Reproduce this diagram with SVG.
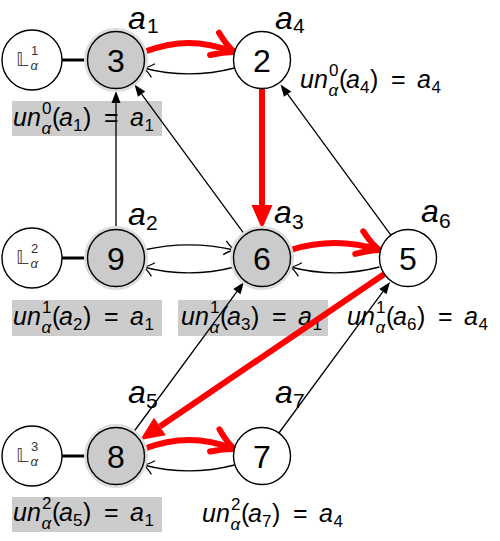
<svg xmlns="http://www.w3.org/2000/svg" width="500" height="541" viewBox="0 0 500 541">
<style>
text{font-family:'Liberation Sans',Arial,sans-serif;fill:#000}
.nd{stroke:#000;stroke-width:1.4}
.w{fill:#fff}
.g{fill:#cbcbcb}
.halo{fill:none;stroke:#dddddd;stroke-width:4}
.num{font-size:32px;text-anchor:middle}
.lab{font-style:italic;font-size:32px}
.lsub{font-style:normal;font-size:21px}
.un{font-size:25px}
.it{font-style:italic}
.s{font-size:17px}
.box{fill:#cccccc}
.bb{font-family:'DejaVu Sans',sans-serif;font-size:19px;fill:#444}
.bs{font-size:13px;fill:#333}
.thick{stroke:#000;stroke-width:3}
.e{fill:none;stroke:#000;stroke-width:1.3}
.r{fill:none;stroke:#f00;stroke-width:6}
</style>
<defs>
<marker id="tri" markerUnits="userSpaceOnUse" viewBox="0 -5 14 10" markerWidth="14" markerHeight="10" refX="0" refY="0" orient="auto" overflow="visible"><path d="M0,-4.5 L12,0 L0,4.5 Z" fill="#000"/></marker>
<marker id="triR" markerUnits="userSpaceOnUse" viewBox="0 -11 26 22" markerWidth="26" markerHeight="22" refX="0" refY="0" orient="auto" overflow="visible"><path d="M0,-10.5 L24,0 L0,10.5 Z" fill="#f00"/></marker>
<marker id="chev" markerUnits="userSpaceOnUse" viewBox="-12 -8 14 16" markerWidth="14" markerHeight="16" refX="0" refY="0" orient="auto" overflow="visible"><path d="M-10,-7 Q-4,-1.5 0,0 Q-4,1.5 -10,7" fill="none" stroke="#000" stroke-width="1.3"/></marker>
<marker id="chevR" markerUnits="userSpaceOnUse" viewBox="-26 -16 30 32" markerWidth="30" markerHeight="32" refX="0" refY="0" orient="auto" overflow="visible"><path d="M-21,-13 Q-9,-3 0,0 Q-9,3 -22,11" fill="none" stroke="#f00" stroke-width="6" stroke-linecap="round" stroke-linejoin="round"/></marker>
</defs>

<g id="labels">
<rect class="box" x="12" y="101" width="150" height="35"/>
<rect class="box" x="12" y="300" width="150" height="36"/>
<rect class="box" x="178" y="300" width="150" height="36"/>
<rect class="box" x="12" y="497" width="150" height="35"/>
<g id="un-a1" transform="translate(13,126)"><text class="un"><tspan class="it" x="0" y="0">un</tspan><tspan class="s" x="29" y="-12">0</tspan><tspan class="s it" x="28.5" y="7.5">α</tspan><tspan x="39" y="0">(</tspan><tspan class="it" x="46" y="0">a</tspan><tspan class="s" x="60" y="5">1</tspan><tspan x="70" y="0">)</tspan><tspan x="91" y="0">=</tspan><tspan class="it" x="117" y="0">a</tspan><tspan class="s" x="131.5" y="5">1</tspan></text></g>
<g id="un-a4" transform="translate(300,88)"><text class="un"><tspan class="it" x="0" y="0">un</tspan><tspan class="s" x="29" y="-12">0</tspan><tspan class="s it" x="28.5" y="7.5">α</tspan><tspan x="39" y="0">(</tspan><tspan class="it" x="46" y="0">a</tspan><tspan class="s" x="60" y="5">4</tspan><tspan x="70" y="0">)</tspan><tspan x="91" y="0">=</tspan><tspan class="it" x="117" y="0">a</tspan><tspan class="s" x="131.5" y="5">4</tspan></text></g>
<g id="un-a2" transform="translate(13,325)"><text class="un"><tspan class="it" x="0" y="0">un</tspan><tspan class="s" x="29" y="-12">1</tspan><tspan class="s it" x="28.5" y="7.5">α</tspan><tspan x="39" y="0">(</tspan><tspan class="it" x="46" y="0">a</tspan><tspan class="s" x="60" y="5">2</tspan><tspan x="70" y="0">)</tspan><tspan x="91" y="0">=</tspan><tspan class="it" x="117" y="0">a</tspan><tspan class="s" x="131.5" y="5">1</tspan></text></g>
<g id="un-a3" transform="translate(181,325)"><text class="un"><tspan class="it" x="0" y="0">un</tspan><tspan class="s" x="29" y="-12">1</tspan><tspan class="s it" x="28.5" y="7.5">α</tspan><tspan x="39" y="0">(</tspan><tspan class="it" x="46" y="0">a</tspan><tspan class="s" x="60" y="5">3</tspan><tspan x="70" y="0">)</tspan><tspan x="91" y="0">=</tspan><tspan class="it" x="117" y="0">a</tspan><tspan class="s" x="131.5" y="5">1</tspan></text></g>
<g id="un-a6" transform="translate(347,325)"><text class="un"><tspan class="it" x="0" y="0">un</tspan><tspan class="s" x="29" y="-12">1</tspan><tspan class="s it" x="28.5" y="7.5">α</tspan><tspan x="39" y="0">(</tspan><tspan class="it" x="46" y="0">a</tspan><tspan class="s" x="60" y="5">6</tspan><tspan x="70" y="0">)</tspan><tspan x="91" y="0">=</tspan><tspan class="it" x="117" y="0">a</tspan><tspan class="s" x="131.5" y="5">4</tspan></text></g>
<g id="un-a5" transform="translate(13,521)"><text class="un"><tspan class="it" x="0" y="0">un</tspan><tspan class="s" x="29" y="-12">2</tspan><tspan class="s it" x="28.5" y="7.5">α</tspan><tspan x="39" y="0">(</tspan><tspan class="it" x="46" y="0">a</tspan><tspan class="s" x="60" y="5">5</tspan><tspan x="70" y="0">)</tspan><tspan x="91" y="0">=</tspan><tspan class="it" x="117" y="0">a</tspan><tspan class="s" x="131.5" y="5">1</tspan></text></g>
<g id="un-a7" transform="translate(202,522)"><text class="un"><tspan class="it" x="0" y="0">un</tspan><tspan class="s" x="29" y="-12">2</tspan><tspan class="s it" x="28.5" y="7.5">α</tspan><tspan x="39" y="0">(</tspan><tspan class="it" x="46" y="0">a</tspan><tspan class="s" x="60" y="5">7</tspan><tspan x="70" y="0">)</tspan><tspan x="91" y="0">=</tspan><tspan class="it" x="117" y="0">a</tspan><tspan class="s" x="131.5" y="5">4</tspan></text></g>
</g>

<g id="connectors">
<line class="thick" x1="62" y1="60" x2="88" y2="60"/>
<line class="thick" x1="62" y1="258" x2="88" y2="258"/>
<line class="thick" x1="62" y1="456" x2="88" y2="456"/>
<path class="e" d="M116,229.5 L116,103" marker-end="url(#tri)"/>
<path class="e" d="M245.1,235.1 L141.6,94.2" marker-end="url(#tri)"/>
<path class="e" d="M390.9,235.1 L287.6,94.2" marker-end="url(#tri)"/>
<path class="e" d="M132.9,433 L236.9,291.7" marker-end="url(#tri)"/>
<path class="e" d="M278.9,433 L382.9,291.7" marker-end="url(#tri)"/>
<path class="r" d="M262,88.5 L262,205" marker-end="url(#triR)"/>
<path class="r" d="M384.4,274 L159.9,426.5" marker-end="url(#triR)"/>
<path class="r" d="M143.5,52 C176.5,40 200.5,40 234.5,52" marker-end="url(#chevR)"/>
<path class="e" d="M234.5,68 C204,76 174,76 143.5,68" marker-end="url(#chev)"/>
<path class="e" d="M143.5,250 C174,243 204,243 234.5,250" marker-end="url(#chev)"/>
<path class="e" d="M234.5,267 C204,275 174,275 143.5,267" marker-end="url(#chev)"/>
<path class="r" d="M290.5,250 C321,240.5 349,240.5 379.5,250" marker-end="url(#chevR)"/>
<path class="e" d="M379.5,267 C349,275 321,275 290.5,267" marker-end="url(#chev)"/>
<path class="r" d="M143.5,449 C175,437 203,437 234.5,449" marker-end="url(#chevR)"/>
<path class="e" d="M234.5,465 C204,473 174,473 143.5,465" marker-end="url(#chev)"/>
</g>

<g id="L1"><circle class="nd w" cx="32" cy="60" r="30"/><text class="bb" x="16" y="66">𝕃</text><text class="bs" x="31" y="55">1</text><text class="bs it" x="30.5" y="70">α</text></g>
<g id="L2"><circle class="nd w" cx="32" cy="258" r="30"/><text class="bb" x="16" y="264">𝕃</text><text class="bs" x="31" y="253">2</text><text class="bs it" x="30.5" y="268">α</text></g>
<g id="L3"><circle class="nd w" cx="32" cy="456" r="30"/><text class="bb" x="16" y="462">𝕃</text><text class="bs" x="31" y="451">3</text><text class="bs it" x="30.5" y="466">α</text></g>

<g id="n3"><circle class="halo" cx="116" cy="60" r="30"/><circle class="nd g" cx="116" cy="60" r="28.5"/><text class="num" x="116" y="71.5">3</text><text class="lab" x="128" y="29">a</text><text class="lab lsub" x="147" y="33">1</text></g>
<g id="n2"><circle class="nd w" cx="262" cy="60" r="28.5"/><text class="num" x="262" y="71.5">2</text><text class="lab" x="275" y="29">a</text><text class="lab lsub" x="293" y="33">4</text></g>
<g id="n9"><circle class="halo" cx="116" cy="258" r="30"/><circle class="nd g" cx="116" cy="258" r="28.5"/><text class="num" x="116" y="269.5">9</text><text class="lab" x="128" y="225">a</text><text class="lab lsub" x="146" y="230">2</text></g>
<g id="n6"><circle class="halo" cx="262" cy="258" r="30"/><circle class="nd g" cx="262" cy="258" r="28.5"/><text class="num" x="262" y="269.5">6</text><text class="lab" x="274" y="223">a</text><text class="lab lsub" x="292" y="229">3</text></g>
<g id="n5"><circle class="nd w" cx="408" cy="258" r="28.5"/><text class="num" x="408" y="269.5">5</text><text class="lab" x="421" y="222">a</text><text class="lab lsub" x="439" y="228">6</text></g>
<g id="n8"><circle class="halo" cx="116" cy="456" r="30"/><circle class="nd g" cx="116" cy="456" r="28.5"/><text class="num" x="116" y="467.5">8</text><text class="lab" x="128" y="403">a</text><text class="lab lsub" x="146" y="408">5</text></g>
<g id="n7"><circle class="nd w" cx="262" cy="456" r="28.5"/><text class="num" x="262" y="467.5">7</text><text class="lab" x="275" y="403">a</text><text class="lab lsub" x="293" y="408">7</text></g>
</svg>
